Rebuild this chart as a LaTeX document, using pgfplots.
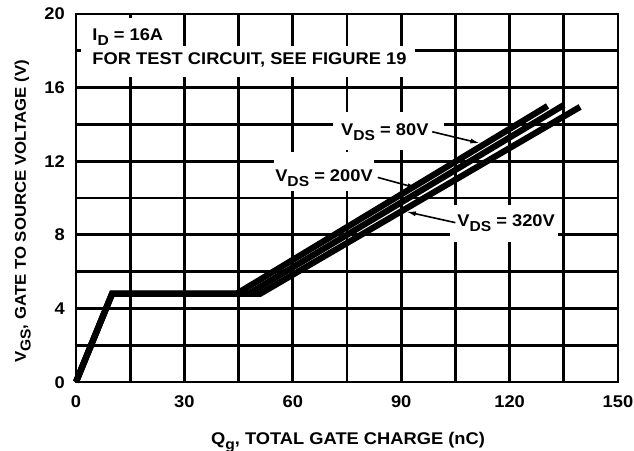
\documentclass[border=0pt]{standalone}
\usepackage{fontspec}
\setmainfont{Liberation Sans}[FakeStretch=1.08]
\usepackage{pgfplots}
\pgfplotsset{compat=1.18}
\usetikzlibrary{arrows.meta}
\newcommand{\lbl}{\bfseries\fontsize{17}{20}\selectfont}
\newcommand{\ylbl}{\bfseries\fontsize{15.6}{18}\selectfont}
\newcommand{\sub}[1]{\raisebox{-0.3em}{\fontsize{14.5}{15}\selectfont #1}}
\begin{document}
\begin{tikzpicture}
\begin{axis}[
  at={(0,0)}, anchor=south west,
  scale only axis, width=542bp, height=368bp,
  xmin=0, xmax=150, ymin=0, ymax=20,
  xtick={0,30,...,150}, ytick={0,4,...,20},
  minor xtick={15,45,...,135}, minor ytick={2,6,...,18},
  grid=both,
  major grid style={black, line width=2.7bp},
  minor grid style={black, line width=2.7bp},
  axis line style={black, line width=2.8bp},
  major tick length=0pt, minor tick length=0pt,
  /pgf/number format/assume math mode=true,
  tick label style={font=\lbl, inner sep=0pt},
  xticklabel style={anchor=base, yshift=-25bp},
  yticklabel style={anchor=base east, xshift=-11bp, yshift=-6bp},
  clip=false,
]
% white boxes behind the annotations
\fill[white] (axis cs:1.4,18.28) rectangle (axis cs:27,19.8);
\fill[white] (axis cs:1.4,16.55) rectangle (axis cs:93.7,18.28);
\fill[white] (axis cs:71.2,12.6) rectangle (axis cs:101.8,14.69);
\fill[white] (axis cs:54.7,10.4) rectangle (axis cs:82.6,12.5);
\fill[white] (axis cs:103.6,7.63) rectangle (axis cs:133.4,9.62);
% curves
\addplot[black, line width=6.2bp] coordinates {(0,0) (10,4.8) (44.5,4.8) (130.5,15.0)};
\addplot[black, line width=6.2bp] coordinates {(0,0) (10,4.8) (47.8,4.8) (135,15.05)};
\addplot[black, line width=6.2bp] coordinates {(0,0) (10,4.8) (51,4.8) (139.5,14.95)};
% annotations
\node[font=\lbl, anchor=base west, inner sep=0pt] at (axis cs:4.5,18.55) {I\sub{D} = 16A};
\node[font=\lbl, anchor=base west, inner sep=0pt] at (axis cs:4.5,17.28) {FOR TEST CIRCUIT, SEE FIGURE 19};
\node[font=\lbl, anchor=base west, inner sep=0pt] at (axis cs:73.35,13.38) {V\sub{DS} = 80V};
\node[font=\lbl, anchor=base west, inner sep=0pt] at (axis cs:55.1,10.89) {V\sub{DS} = 200V};
\node[font=\lbl, anchor=base west, inner sep=0pt] at (axis cs:105.5,8.44) {V\sub{DS} = 320V};
\draw[line width=1.6bp, -{Latex[length=10bp,width=5bp]}] (axis cs:98.6,13.6) -- (axis cs:111.9,12.97);
\draw[line width=1.6bp, -{Latex[length=10bp,width=5bp]}] (axis cs:83.5,11.12) -- (axis cs:94.5,10.53);
\draw[line width=1.6bp, -{Latex[length=10bp,width=5bp]}] (axis cs:105.0,8.66) -- (axis cs:91.3,9.26);
\end{axis}
\node[font=\lbl, anchor=base] at (272bp,-62bp) {Q\sub{g}, TOTAL GATE CHARGE (nC)};
\node[font=\ylbl, rotate=90, anchor=base] at (-50bp,170.5bp) {V\sub{GS}, GATE TO SOURCE VOLTAGE (V)};
\pgfresetboundingbox
\path[use as bounding box] (-76bp,-69bp) rectangle (558bp,382bp);
\end{tikzpicture}
\end{document}
